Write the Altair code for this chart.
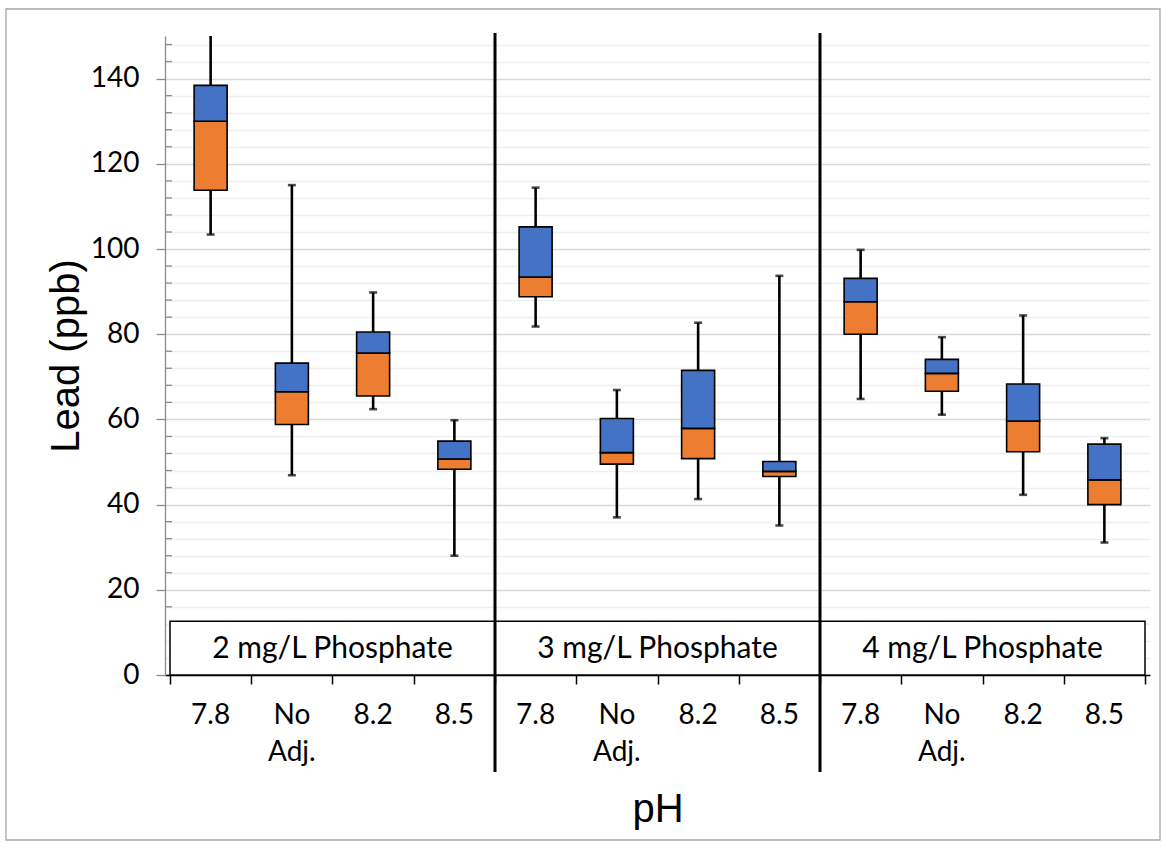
import altair as alt
import pandas as pd

# ---- data ----
phosphate_doses = ["2 mg/L Phosphate", "3 mg/L Phosphate", "4 mg/L Phosphate"]
ph_labels = ["7.8", "No\nAdj.", "8.2", "8.5"]
whisker_low = [103.4, 46.9, 62.4, 28.0, 81.8, 37.0, 41.3, 35.1, 64.8, 61.1, 42.3, 31.1]
quartile1 = [113.8, 58.8, 65.5, 48.3, 88.8, 49.5, 50.8, 46.6, 80.0, 66.6, 52.4, 40.0]
median = [130.0, 66.5, 75.6, 50.7, 93.4, 52.2, 57.9, 47.8, 87.6, 70.8, 59.6, 45.8]
quartile3 = [138.4, 73.2, 80.5, 54.9, 105.2, 60.2, 71.5, 50.1, 93.1, 74.1, 68.3, 54.2]
whisker_high = [155.0, 115.0, 89.8, 59.8, 114.4, 66.9, 82.7, 93.7, 99.8, 79.3, 84.4, 55.6]

rows = []
for p, dose in enumerate(phosphate_doses):
    for j, ph in enumerate(ph_labels):
        i = p * len(ph_labels) + j
        rows.append({
            "dose": dose, "ph": ph, "pos": i + 0.5,
            "lo": whisker_low[i], "q1": quartile1[i], "med": median[i],
            "q3": quartile3[i], "hi": whisker_high[i],
        })
df = pd.DataFrame(rows)
n_cat = len(df)
per = len(ph_labels)

panels = pd.DataFrame({
    "dose": phosphate_doses,
    "start": [p * per for p in range(len(phosphate_doses))],
    "end": [(p + 1) * per for p in range(len(phosphate_doses))],
    "mid": [p * per + per / 2 for p in range(len(phosphate_doses))],
})
seps = pd.DataFrame({"x": [p * per for p in range(1, len(phosphate_doses))]})
grid_vals = list(range(0, 149, 4))
minor = pd.DataFrame({"v": [v for v in grid_vals if v % 20 != 0 and v >= 16]})

W, H = 985, 639
LABEL_FONT = "Lato"
TITLE_FONT = "Liberation Sans"

xscale = alt.Scale(domain=[0, n_cat], nice=False, zero=False)
yscale = alt.Scale(domain=[0, 150], nice=False, zero=True)

xaxis = alt.Axis(values=list(range(n_cat + 1)), tickCount=100, labels=False, grid=False,
                 tickSize=9, tickColor="black", tickWidth=1.5,
                 domainColor="black", domainWidth=1.5,
                 title="pH", titleFont=TITLE_FONT, titleFontSize=40,
                 titleFontWeight="normal", titleColor="black",
                 titleY=146, titleBaseline="alphabetic")
yaxis = alt.Axis(values=grid_vals, tickCount=200, grid=True,
                 gridColor={"condition": {"test": "datum.value % 20 === 0", "value": "#d9d9d9"},
                            "value": "#efefef"},
                 gridWidth=1.3,
                 tickSize=9,
                 tickColor={"condition": {"test": "datum.value % 20 === 0", "value": "#8c8c8c"},
                            "value": "rgba(0,0,0,0)"},
                 tickWidth=1.3,
                 domainColor="#8c8c8c", domainWidth=1.3,
                 labelExpr="datum.value % 20 === 0 ? datum.label : ''",
                 labelOverlap=False, labelFlush=False,
                 labelFont=LABEL_FONT, labelFontSize=28, labelColor="black",
                 labelPadding=17,
                 title="Lead (ppb)", titleFont=TITLE_FONT, titleFontSize=40,
                 titleFontWeight="normal", titleColor="black",
                 titleAngle=270, titleX=-87, titleY=H / 2,
                 titleBaseline="alphabetic", titleAlign="center")

def X(field):
    return alt.X(field, type="quantitative", scale=xscale, axis=xaxis)

def Y(field):
    return alt.Y(field, type="quantitative", scale=yscale, axis=yaxis)

minor_ticks = alt.Chart(minor).mark_rule(color="#8c8c8c", strokeWidth=1.3).encode(
    y=Y("v"), x=alt.value(0), x2=alt.value(7))

panel_boxes = alt.Chart(panels).mark_rect(fill="white", stroke="black", strokeWidth=1.5).encode(
    x=X("start"), x2="end", y=alt.datum(0), y2=alt.datum(12.6))

panel_text = alt.Chart(panels).mark_text(font=LABEL_FONT, fontSize=30, color="black",
                                         baseline="middle").encode(
    x=X("mid"), y=alt.datum(6.0), text="dose")

whisk = alt.Chart(df).mark_rule(color="black", strokeWidth=2.6, clip=True).encode(
    x=X("pos"), y=Y("lo"), y2="hi")

cap_lo = alt.Chart(df).mark_tick(orient="horizontal", color="black", size=8,
                                 thickness=2.6, clip=True).encode(x=X("pos"), y=Y("lo"))
cap_hi = alt.Chart(df).mark_tick(orient="horizontal", color="black", size=8,
                                 thickness=2.6, clip=True).encode(x=X("pos"), y=Y("hi"))

box_low = alt.Chart(df).mark_bar(size=33, color="#ED7D31", stroke="black",
                                 strokeWidth=1.6).encode(x=X("pos"), y=Y("q1"), y2="med")
box_high = alt.Chart(df).mark_bar(size=33, color="#4472C4", stroke="black",
                                  strokeWidth=1.6).encode(x=X("pos"), y=Y("med"), y2="q3")

separators = alt.Chart(seps).mark_rule(color="black", strokeWidth=3).encode(
    x=X("x"), y=alt.value(-3), y2=alt.value(H + 97))

cat_labels = alt.Chart(df).mark_text(font=LABEL_FONT, fontSize=28, color="black",
                                     baseline="alphabetic", lineBreak="\n",
                                     lineHeight=37).encode(
    x=X("pos"), y=alt.value(H + 49), text="ph")

frame = alt.Chart(pd.DataFrame({"k": [0]})).mark_rect(
    fill=None, stroke="#a6a6a6", strokeWidth=1.3).encode(
    x=alt.value(-159), x2=alt.value(995), y=alt.value(-27), y2=alt.value(804))

chart = alt.layer(
    minor_ticks, panel_boxes, panel_text, whisk, cap_lo, cap_hi,
    box_low, box_high, separators, cat_labels, frame
).properties(
    width=W, height=H,
    padding={"left": 165, "top": 36, "right": 12, "bottom": 172},
    autosize=alt.AutoSizeParams(type="none"),
    background="white",
).configure_view(stroke=None)

chart.save("out.html", embed_options={"renderer": "svg", "actions": False})
